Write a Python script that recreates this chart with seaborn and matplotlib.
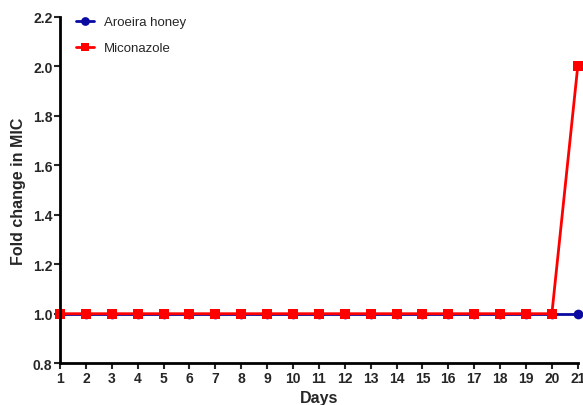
import pandas as pd
import matplotlib
matplotlib.use("Agg")
import matplotlib.pyplot as plt
import seaborn as sns

# Data
days = list(range(1, 22))
aroeira_honey = [1.0] * 21
miconazole = [1.0] * 20 + [2.0]

df = pd.DataFrame({
    "Days": days * 2,
    "Fold": aroeira_honey + miconazole,
    "Treatment": ["Aroeira honey"] * 21 + ["Miconazole"] * 21,
})

sns.set_style("ticks")
plt.rcParams['font.family'] = ['Liberation Sans', 'DejaVu Sans']

fig = plt.figure(figsize=(5.83, 4.06), dpi=100)
ax = fig.add_axes([0.103, 0.103, 0.888, 0.853])

palette = {"Aroeira honey": "#0a0aa0", "Miconazole": "#ff0000"}
markers = {"Aroeira honey": "o", "Miconazole": "s"}
sns.lineplot(data=df, x="Days", y="Fold", hue="Treatment", style="Treatment",
             palette=palette, markers=markers, dashes=False, markersize=7,
             markeredgewidth=0, linewidth=2, ax=ax, clip_on=False)

ax.set_xlim(1, 21)
ax.set_ylim(0.8, 2.2)
ax.set_xticks(days)
ax.set_yticks([0.8, 1.0, 1.2, 1.4, 1.6, 1.8, 2.0, 2.2])
ax.set_yticklabels(["0.8", "1.0", "1.2", "1.4", "1.6", "1.8", "2.0", "2.2"])
for lab in ax.get_xticklabels() + ax.get_yticklabels():
    lab.set_fontweight("bold")
    lab.set_fontsize(10)
ax.tick_params(width=1.5, length=4, pad=1.5)
ax.set_xlabel("Days", fontsize=11.5, fontweight="bold", labelpad=4)
ax.set_ylabel("Fold change in MIC", fontsize=11.5, fontweight="bold", labelpad=5)
sns.despine(ax=ax)
for s in ["left", "bottom"]:
    ax.spines[s].set_linewidth(2)
    ax.spines[s].set_color("black")

leg = ax.legend(frameon=False, loc="upper left", bbox_to_anchor=(0.008, 1.037),
                fontsize=9.5, handlelength=1.35, handletextpad=0.75,
                labelspacing=1.05, markerscale=0.9)

fig.savefig("out.png", dpi=100)
